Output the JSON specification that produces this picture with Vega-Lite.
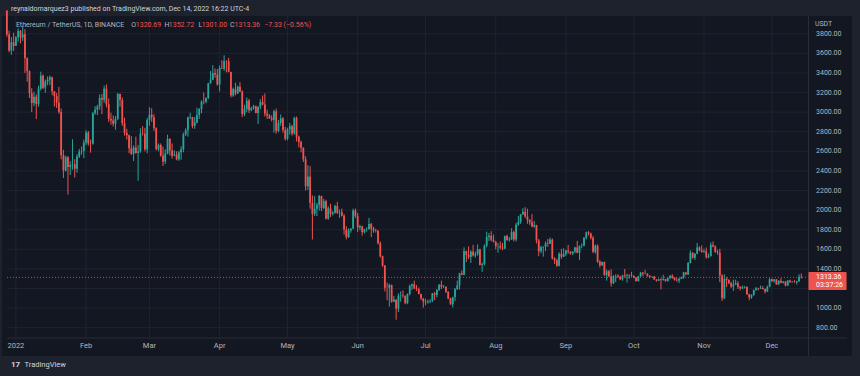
{
"$schema": "https://vega.github.io/schema/vega-lite/v6.json",
"width": 850,
"height": 340,
"autosize": {"type": "none"},
"padding": {"left": 2, "top": 16, "right": 8, "bottom": 20},
"background": "#1e222d",
"config": {"view": {"fill": "#131722", "stroke": null}, "font": "Roboto", "text": {"font": "Roboto"}, "axis": {"disable": true}},
"datasets": {
"one": [{}],
"months": [{"m":"2022-01-01","lab":"2022"},{"m":"2022-02-01","lab":"Feb"},{"m":"2022-03-01","lab":"Mar"},{"m":"2022-04-01","lab":"Apr"},{"m":"2022-05-01","lab":"May"},{"m":"2022-06-01","lab":"Jun"},{"m":"2022-07-01","lab":"Jul"},{"m":"2022-08-01","lab":"Aug"},{"m":"2022-09-01","lab":"Sep"},{"m":"2022-10-01","lab":"Oct"},{"m":"2022-11-01","lab":"Nov"},{"m":"2022-12-01","lab":"Dec"}],
"prices": [{"p":800},{"p":1000},{"p":1200},{"p":1400},{"p":1600},{"p":1800},{"p":2000},{"p":2200},{"p":2400},{"p":2600},{"p":2800},{"p":3000},{"p":3200},{"p":3400},{"p":3600},{"p":3800}],
"eth": [
{"d":"2021-12-28","o":4037,"h":4037,"l":3769,"c":3793},
{"d":"2021-12-29","o":3793,"h":3830,"l":3612,"c":3628},
{"d":"2021-12-30","o":3628,"h":3767,"l":3585,"c":3713},
{"d":"2021-12-31","o":3713,"h":3810,"l":3623,"c":3676},
{"d":"2022-01-01","o":3676,"h":3776,"l":3675,"c":3765},
{"d":"2022-01-02","o":3765,"h":3856,"l":3720,"c":3829},
{"d":"2022-01-03","o":3829,"h":3838,"l":3701,"c":3761},
{"d":"2022-01-04","o":3761,"h":3876,"l":3728,"c":3794},
{"d":"2022-01-05","o":3794,"h":3847,"l":3400,"c":3550},
{"d":"2022-01-06","o":3550,"h":3560,"l":3311,"c":3418},
{"d":"2022-01-07","o":3418,"h":3425,"l":3144,"c":3193},
{"d":"2022-01-08","o":3193,"h":3244,"l":3000,"c":3092},
{"d":"2022-01-09","o":3092,"h":3209,"l":3061,"c":3157},
{"d":"2022-01-10","o":3157,"h":3180,"l":2929,"c":3083},
{"d":"2022-01-11","o":3083,"h":3270,"l":3055,"c":3239},
{"d":"2022-01-12","o":3239,"h":3413,"l":3221,"c":3372},
{"d":"2022-01-13","o":3372,"h":3386,"l":3236,"c":3250},
{"d":"2022-01-14","o":3250,"h":3332,"l":3197,"c":3311},
{"d":"2022-01-15","o":3311,"h":3365,"l":3275,"c":3332},
{"d":"2022-01-16","o":3332,"h":3375,"l":3275,"c":3356},
{"d":"2022-01-17","o":3356,"h":3362,"l":3173,"c":3212},
{"d":"2022-01-18","o":3212,"h":3216,"l":3057,"c":3164},
{"d":"2022-01-19","o":3164,"h":3196,"l":3042,"c":3096},
{"d":"2022-01-20","o":3096,"h":3258,"l":2984,"c":3000},
{"d":"2022-01-21","o":3000,"h":3036,"l":2519,"c":2560},
{"d":"2022-01-22","o":2560,"h":2615,"l":2328,"c":2405},
{"d":"2022-01-23","o":2405,"h":2556,"l":2392,"c":2539},
{"d":"2022-01-24","o":2539,"h":2552,"l":2159,"c":2441},
{"d":"2022-01-25","o":2441,"h":2500,"l":2358,"c":2462},
{"d":"2022-01-26","o":2462,"h":2723,"l":2412,"c":2466},
{"d":"2022-01-27","o":2466,"h":2519,"l":2333,"c":2423},
{"d":"2022-01-28","o":2423,"h":2570,"l":2382,"c":2546},
{"d":"2022-01-29","o":2546,"h":2625,"l":2531,"c":2601},
{"d":"2022-01-30","o":2601,"h":2649,"l":2567,"c":2603},
{"d":"2022-01-31","o":2603,"h":2720,"l":2530,"c":2688},
{"d":"2022-02-01","o":2688,"h":2815,"l":2663,"c":2792},
{"d":"2022-02-02","o":2792,"h":2808,"l":2658,"c":2680},
{"d":"2022-02-03","o":2680,"h":2720,"l":2586,"c":2678},
{"d":"2022-02-04","o":2678,"h":3000,"l":2668,"c":2990},
{"d":"2022-02-05","o":2990,"h":3060,"l":2973,"c":3024},
{"d":"2022-02-06","o":3024,"h":3075,"l":2970,"c":3059},
{"d":"2022-02-07","o":3059,"h":3180,"l":3025,"c":3144},
{"d":"2022-02-08","o":3144,"h":3186,"l":2980,"c":3125},
{"d":"2022-02-09","o":3125,"h":3270,"l":3095,"c":3240},
{"d":"2022-02-10","o":3240,"h":3283,"l":3049,"c":3080},
{"d":"2022-02-11","o":3080,"h":3138,"l":2900,"c":2930},
{"d":"2022-02-12","o":2930,"h":2995,"l":2872,"c":2915},
{"d":"2022-02-13","o":2915,"h":2966,"l":2853,"c":2882},
{"d":"2022-02-14","o":2882,"h":2960,"l":2820,"c":2930},
{"d":"2022-02-15","o":2930,"h":3195,"l":2920,"c":3185},
{"d":"2022-02-16","o":3185,"h":3190,"l":3055,"c":3123},
{"d":"2022-02-17","o":3123,"h":3150,"l":2860,"c":2888},
{"d":"2022-02-18","o":2888,"h":2944,"l":2760,"c":2788},
{"d":"2022-02-19","o":2788,"h":2830,"l":2720,"c":2764},
{"d":"2022-02-20","o":2764,"h":2770,"l":2580,"c":2631},
{"d":"2022-02-21","o":2631,"h":2755,"l":2562,"c":2574},
{"d":"2022-02-22","o":2574,"h":2661,"l":2500,"c":2640},
{"d":"2022-02-23","o":2640,"h":2750,"l":2575,"c":2584},
{"d":"2022-02-24","o":2584,"h":2665,"l":2300,"c":2598},
{"d":"2022-02-25","o":2598,"h":2835,"l":2585,"c":2781},
{"d":"2022-02-26","o":2781,"h":2858,"l":2762,"c":2779},
{"d":"2022-02-27","o":2779,"h":2840,"l":2600,"c":2620},
{"d":"2022-02-28","o":2620,"h":2940,"l":2580,"c":2920},
{"d":"2022-03-01","o":2920,"h":3050,"l":2860,"c":2973},
{"d":"2022-03-02","o":2973,"h":3040,"l":2900,"c":2948},
{"d":"2022-03-03","o":2948,"h":2978,"l":2810,"c":2836},
{"d":"2022-03-04","o":2836,"h":2845,"l":2610,"c":2621},
{"d":"2022-03-05","o":2621,"h":2680,"l":2600,"c":2665},
{"d":"2022-03-06","o":2665,"h":2680,"l":2545,"c":2555},
{"d":"2022-03-07","o":2555,"h":2648,"l":2450,"c":2496},
{"d":"2022-03-08","o":2496,"h":2620,"l":2470,"c":2578},
{"d":"2022-03-09","o":2578,"h":2770,"l":2570,"c":2726},
{"d":"2022-03-10","o":2726,"h":2735,"l":2557,"c":2608},
{"d":"2022-03-11","o":2608,"h":2680,"l":2527,"c":2556},
{"d":"2022-03-12","o":2556,"h":2611,"l":2550,"c":2567},
{"d":"2022-03-13","o":2567,"h":2600,"l":2508,"c":2518},
{"d":"2022-03-14","o":2518,"h":2605,"l":2503,"c":2590},
{"d":"2022-03-15","o":2590,"h":2652,"l":2513,"c":2620},
{"d":"2022-03-16","o":2620,"h":2790,"l":2590,"c":2773},
{"d":"2022-03-17","o":2773,"h":2835,"l":2757,"c":2815},
{"d":"2022-03-18","o":2815,"h":2955,"l":2750,"c":2945},
{"d":"2022-03-19","o":2945,"h":2993,"l":2928,"c":2950},
{"d":"2022-03-20","o":2950,"h":2952,"l":2834,"c":2858},
{"d":"2022-03-21","o":2858,"h":2950,"l":2830,"c":2895},
{"d":"2022-03-22","o":2895,"h":3045,"l":2885,"c":2970},
{"d":"2022-03-23","o":2970,"h":3040,"l":2930,"c":3032},
{"d":"2022-03-24","o":3032,"h":3120,"l":2990,"c":3108},
{"d":"2022-03-25","o":3108,"h":3200,"l":3080,"c":3106},
{"d":"2022-03-26","o":3106,"h":3150,"l":3090,"c":3144},
{"d":"2022-03-27","o":3144,"h":3300,"l":3131,"c":3294},
{"d":"2022-03-28","o":3294,"h":3420,"l":3290,"c":3330},
{"d":"2022-03-29","o":3330,"h":3480,"l":3325,"c":3398},
{"d":"2022-03-30","o":3398,"h":3445,"l":3350,"c":3384},
{"d":"2022-03-31","o":3384,"h":3440,"l":3270,"c":3282},
{"d":"2022-04-01","o":3282,"h":3475,"l":3210,"c":3450},
{"d":"2022-04-02","o":3450,"h":3530,"l":3440,"c":3444},
{"d":"2022-04-03","o":3444,"h":3580,"l":3420,"c":3522},
{"d":"2022-04-04","o":3522,"h":3530,"l":3405,"c":3521},
{"d":"2022-04-05","o":3521,"h":3555,"l":3407,"c":3410},
{"d":"2022-04-06","o":3410,"h":3412,"l":3150,"c":3169},
{"d":"2022-04-07","o":3169,"h":3250,"l":3155,"c":3234},
{"d":"2022-04-08","o":3234,"h":3300,"l":3170,"c":3190},
{"d":"2022-04-09","o":3190,"h":3270,"l":3185,"c":3260},
{"d":"2022-04-10","o":3260,"h":3305,"l":3205,"c":3211},
{"d":"2022-04-11","o":3211,"h":3222,"l":2950,"c":2981},
{"d":"2022-04-12","o":2981,"h":3075,"l":2960,"c":3030},
{"d":"2022-04-13","o":3030,"h":3150,"l":2998,"c":3118},
{"d":"2022-04-14","o":3118,"h":3135,"l":2990,"c":3019},
{"d":"2022-04-15","o":3019,"h":3055,"l":3010,"c":3040},
{"d":"2022-04-16","o":3040,"h":3075,"l":3025,"c":3060},
{"d":"2022-04-17","o":3060,"h":3067,"l":2988,"c":2990},
{"d":"2022-04-18","o":2990,"h":3060,"l":2880,"c":3056},
{"d":"2022-04-19","o":3056,"h":3133,"l":3030,"c":3103},
{"d":"2022-04-20","o":3103,"h":3170,"l":3070,"c":3077},
{"d":"2022-04-21","o":3077,"h":3190,"l":2955,"c":2985},
{"d":"2022-04-22","o":2985,"h":3025,"l":2930,"c":2965},
{"d":"2022-04-23","o":2965,"h":2980,"l":2930,"c":2938},
{"d":"2022-04-24","o":2938,"h":2968,"l":2905,"c":2922},
{"d":"2022-04-25","o":2922,"h":3025,"l":2790,"c":3008},
{"d":"2022-04-26","o":3008,"h":3035,"l":2780,"c":2808},
{"d":"2022-04-27","o":2808,"h":2920,"l":2796,"c":2889},
{"d":"2022-04-28","o":2889,"h":2976,"l":2860,"c":2936},
{"d":"2022-04-29","o":2936,"h":2950,"l":2790,"c":2817},
{"d":"2022-04-30","o":2817,"h":2850,"l":2710,"c":2728},
{"d":"2022-05-01","o":2728,"h":2840,"l":2712,"c":2826},
{"d":"2022-05-02","o":2826,"h":2890,"l":2770,"c":2857},
{"d":"2022-05-03","o":2857,"h":2870,"l":2760,"c":2782},
{"d":"2022-05-04","o":2782,"h":2955,"l":2770,"c":2940},
{"d":"2022-05-05","o":2940,"h":2955,"l":2700,"c":2748},
{"d":"2022-05-06","o":2748,"h":2760,"l":2640,"c":2694},
{"d":"2022-05-07","o":2694,"h":2710,"l":2590,"c":2636},
{"d":"2022-05-08","o":2636,"h":2640,"l":2490,"c":2518},
{"d":"2022-05-09","o":2518,"h":2550,"l":2200,"c":2243},
{"d":"2022-05-10","o":2243,"h":2458,"l":2205,"c":2342},
{"d":"2022-05-11","o":2342,"h":2450,"l":2015,"c":2073},
{"d":"2022-05-12","o":2073,"h":2150,"l":1700,"c":1962},
{"d":"2022-05-13","o":1962,"h":2145,"l":1940,"c":2014},
{"d":"2022-05-14","o":2014,"h":2075,"l":1940,"c":2054},
{"d":"2022-05-15","o":2054,"h":2155,"l":1995,"c":2145},
{"d":"2022-05-16","o":2145,"h":2145,"l":1990,"c":2022},
{"d":"2022-05-17","o":2022,"h":2115,"l":2011,"c":2090},
{"d":"2022-05-18","o":2090,"h":2105,"l":1905,"c":1913},
{"d":"2022-05-19","o":1913,"h":2040,"l":1900,"c":2018},
{"d":"2022-05-20","o":2018,"h":2065,"l":1930,"c":1961},
{"d":"2022-05-21","o":1961,"h":1990,"l":1945,"c":1973},
{"d":"2022-05-22","o":1973,"h":2055,"l":1963,"c":2043},
{"d":"2022-05-23","o":2043,"h":2085,"l":1960,"c":1972},
{"d":"2022-05-24","o":1972,"h":2005,"l":1920,"c":1978},
{"d":"2022-05-25","o":1978,"h":2015,"l":1935,"c":1943},
{"d":"2022-05-26","o":1943,"h":1960,"l":1750,"c":1802},
{"d":"2022-05-27","o":1802,"h":1835,"l":1700,"c":1725},
{"d":"2022-05-28","o":1725,"h":1815,"l":1715,"c":1793},
{"d":"2022-05-29","o":1793,"h":1815,"l":1770,"c":1811},
{"d":"2022-05-30","o":1811,"h":2015,"l":1805,"c":1996},
{"d":"2022-05-31","o":1996,"h":2015,"l":1920,"c":1941},
{"d":"2022-06-01","o":1941,"h":1970,"l":1775,"c":1823},
{"d":"2022-06-02","o":1823,"h":1850,"l":1795,"c":1834},
{"d":"2022-06-03","o":1834,"h":1840,"l":1740,"c":1775},
{"d":"2022-06-04","o":1775,"h":1810,"l":1762,"c":1804},
{"d":"2022-06-05","o":1804,"h":1825,"l":1780,"c":1805},
{"d":"2022-06-06","o":1805,"h":1920,"l":1800,"c":1858},
{"d":"2022-06-07","o":1858,"h":1870,"l":1725,"c":1812},
{"d":"2022-06-08","o":1812,"h":1830,"l":1770,"c":1793},
{"d":"2022-06-09","o":1793,"h":1810,"l":1770,"c":1789},
{"d":"2022-06-10","o":1789,"h":1795,"l":1650,"c":1661},
{"d":"2022-06-11","o":1661,"h":1680,"l":1515,"c":1529},
{"d":"2022-06-12","o":1529,"h":1535,"l":1420,"c":1434},
{"d":"2022-06-13","o":1434,"h":1440,"l":1170,"c":1208},
{"d":"2022-06-14","o":1208,"h":1260,"l":1080,"c":1207},
{"d":"2022-06-15","o":1207,"h":1250,"l":1015,"c":1236},
{"d":"2022-06-16","o":1236,"h":1240,"l":1055,"c":1066},
{"d":"2022-06-17","o":1066,"h":1125,"l":1060,"c":1086},
{"d":"2022-06-18","o":1086,"h":1090,"l":881,"c":994},
{"d":"2022-06-19","o":994,"h":1150,"l":960,"c":1127},
{"d":"2022-06-20","o":1127,"h":1170,"l":1065,"c":1128},
{"d":"2022-06-21","o":1128,"h":1180,"l":1105,"c":1124},
{"d":"2022-06-22","o":1124,"h":1130,"l":1040,"c":1050},
{"d":"2022-06-23","o":1050,"h":1150,"l":1040,"c":1143},
{"d":"2022-06-24","o":1143,"h":1240,"l":1130,"c":1225},
{"d":"2022-06-25","o":1225,"h":1250,"l":1185,"c":1243},
{"d":"2022-06-26","o":1243,"h":1280,"l":1195,"c":1199},
{"d":"2022-06-27","o":1199,"h":1235,"l":1175,"c":1193},
{"d":"2022-06-28","o":1193,"h":1210,"l":1140,"c":1144},
{"d":"2022-06-29","o":1144,"h":1147,"l":1080,"c":1098},
{"d":"2022-06-30","o":1098,"h":1102,"l":1005,"c":1067},
{"d":"2022-07-01","o":1067,"h":1095,"l":1030,"c":1059},
{"d":"2022-07-02","o":1059,"h":1085,"l":1045,"c":1067},
{"d":"2022-07-03","o":1067,"h":1090,"l":1050,"c":1075},
{"d":"2022-07-04","o":1075,"h":1155,"l":1060,"c":1150},
{"d":"2022-07-05","o":1150,"h":1165,"l":1080,"c":1134},
{"d":"2022-07-06","o":1134,"h":1195,"l":1110,"c":1186},
{"d":"2022-07-07","o":1186,"h":1245,"l":1175,"c":1238},
{"d":"2022-07-08","o":1238,"h":1280,"l":1195,"c":1216},
{"d":"2022-07-09","o":1216,"h":1235,"l":1205,"c":1217},
{"d":"2022-07-10","o":1217,"h":1220,"l":1155,"c":1168},
{"d":"2022-07-11","o":1168,"h":1170,"l":1090,"c":1097},
{"d":"2022-07-12","o":1097,"h":1105,"l":1035,"c":1038},
{"d":"2022-07-13","o":1038,"h":1115,"l":1006,"c":1112},
{"d":"2022-07-14","o":1112,"h":1205,"l":1070,"c":1192},
{"d":"2022-07-15","o":1192,"h":1280,"l":1185,"c":1232},
{"d":"2022-07-16","o":1232,"h":1360,"l":1190,"c":1355},
{"d":"2022-07-17","o":1355,"h":1385,"l":1335,"c":1339},
{"d":"2022-07-18","o":1339,"h":1620,"l":1335,"c":1582},
{"d":"2022-07-19","o":1582,"h":1585,"l":1470,"c":1543},
{"d":"2022-07-20","o":1543,"h":1630,"l":1500,"c":1523},
{"d":"2022-07-21","o":1523,"h":1590,"l":1460,"c":1576},
{"d":"2022-07-22","o":1576,"h":1645,"l":1525,"c":1537},
{"d":"2022-07-23","o":1537,"h":1575,"l":1515,"c":1550},
{"d":"2022-07-24","o":1550,"h":1650,"l":1535,"c":1599},
{"d":"2022-07-25","o":1599,"h":1605,"l":1435,"c":1441},
{"d":"2022-07-26","o":1441,"h":1465,"l":1370,"c":1450},
{"d":"2022-07-27","o":1450,"h":1650,"l":1435,"c":1636},
{"d":"2022-07-28","o":1636,"h":1780,"l":1620,"c":1725},
{"d":"2022-07-29","o":1725,"h":1765,"l":1685,"c":1737},
{"d":"2022-07-30","o":1737,"h":1785,"l":1680,"c":1697},
{"d":"2022-07-31","o":1697,"h":1750,"l":1670,"c":1678},
{"d":"2022-08-01","o":1678,"h":1685,"l":1600,"c":1632},
{"d":"2022-08-02","o":1632,"h":1665,"l":1565,"c":1633},
{"d":"2022-08-03","o":1633,"h":1680,"l":1600,"c":1617},
{"d":"2022-08-04","o":1617,"h":1665,"l":1590,"c":1608},
{"d":"2022-08-05","o":1608,"h":1740,"l":1600,"c":1735},
{"d":"2022-08-06","o":1735,"h":1750,"l":1690,"c":1693},
{"d":"2022-08-07","o":1693,"h":1725,"l":1680,"c":1700},
{"d":"2022-08-08","o":1700,"h":1815,"l":1695,"c":1777},
{"d":"2022-08-09","o":1777,"h":1790,"l":1680,"c":1700},
{"d":"2022-08-10","o":1700,"h":1870,"l":1680,"c":1852},
{"d":"2022-08-11","o":1852,"h":1940,"l":1840,"c":1881},
{"d":"2022-08-12","o":1881,"h":1960,"l":1860,"c":1957},
{"d":"2022-08-13","o":1957,"h":2020,"l":1950,"c":1982},
{"d":"2022-08-14","o":1982,"h":2030,"l":1920,"c":1935},
{"d":"2022-08-15","o":1935,"h":2015,"l":1860,"c":1902},
{"d":"2022-08-16","o":1902,"h":1905,"l":1850,"c":1876},
{"d":"2022-08-17","o":1876,"h":1960,"l":1825,"c":1833},
{"d":"2022-08-18","o":1833,"h":1890,"l":1820,"c":1847},
{"d":"2022-08-19","o":1847,"h":1850,"l":1660,"c":1690},
{"d":"2022-08-20","o":1690,"h":1705,"l":1530,"c":1580},
{"d":"2022-08-21","o":1580,"h":1635,"l":1560,"c":1620},
{"d":"2022-08-22","o":1620,"h":1630,"l":1525,"c":1626},
{"d":"2022-08-23","o":1626,"h":1680,"l":1580,"c":1662},
{"d":"2022-08-24","o":1662,"h":1705,"l":1625,"c":1657},
{"d":"2022-08-25","o":1657,"h":1720,"l":1655,"c":1699},
{"d":"2022-08-26","o":1699,"h":1710,"l":1495,"c":1506},
{"d":"2022-08-27","o":1506,"h":1520,"l":1450,"c":1489},
{"d":"2022-08-28","o":1489,"h":1505,"l":1420,"c":1432},
{"d":"2022-08-29","o":1432,"h":1570,"l":1425,"c":1554},
{"d":"2022-08-30","o":1554,"h":1605,"l":1500,"c":1524},
{"d":"2022-08-31","o":1524,"h":1610,"l":1520,"c":1553},
{"d":"2022-09-01","o":1553,"h":1595,"l":1530,"c":1587},
{"d":"2022-09-02","o":1587,"h":1645,"l":1555,"c":1576},
{"d":"2022-09-03","o":1576,"h":1580,"l":1545,"c":1557},
{"d":"2022-09-04","o":1557,"h":1580,"l":1540,"c":1577},
{"d":"2022-09-05","o":1577,"h":1625,"l":1560,"c":1618},
{"d":"2022-09-06","o":1618,"h":1685,"l":1560,"c":1563},
{"d":"2022-09-07","o":1563,"h":1640,"l":1490,"c":1633},
{"d":"2022-09-08","o":1633,"h":1660,"l":1610,"c":1635},
{"d":"2022-09-09","o":1635,"h":1725,"l":1630,"c":1718},
{"d":"2022-09-10","o":1718,"h":1780,"l":1700,"c":1773},
{"d":"2022-09-11","o":1773,"h":1785,"l":1740,"c":1761},
{"d":"2022-09-12","o":1761,"h":1770,"l":1700,"c":1717},
{"d":"2022-09-13","o":1717,"h":1735,"l":1560,"c":1575},
{"d":"2022-09-14","o":1575,"h":1650,"l":1555,"c":1636},
{"d":"2022-09-15","o":1636,"h":1650,"l":1460,"c":1474},
{"d":"2022-09-16","o":1474,"h":1490,"l":1415,"c":1437},
{"d":"2022-09-17","o":1437,"h":1475,"l":1430,"c":1470},
{"d":"2022-09-18","o":1470,"h":1475,"l":1330,"c":1336},
{"d":"2022-09-19","o":1336,"h":1395,"l":1280,"c":1376},
{"d":"2022-09-20","o":1376,"h":1390,"l":1315,"c":1324},
{"d":"2022-09-21","o":1324,"h":1395,"l":1220,"c":1253},
{"d":"2022-09-22","o":1253,"h":1335,"l":1245,"c":1327},
{"d":"2022-09-23","o":1327,"h":1345,"l":1265,"c":1329},
{"d":"2022-09-24","o":1329,"h":1345,"l":1310,"c":1318},
{"d":"2022-09-25","o":1318,"h":1330,"l":1285,"c":1294},
{"d":"2022-09-26","o":1294,"h":1340,"l":1280,"c":1335},
{"d":"2022-09-27","o":1335,"h":1400,"l":1310,"c":1331},
{"d":"2022-09-28","o":1331,"h":1350,"l":1260,"c":1337},
{"d":"2022-09-29","o":1337,"h":1345,"l":1300,"c":1334},
{"d":"2022-09-30","o":1334,"h":1370,"l":1320,"c":1328},
{"d":"2022-10-01","o":1328,"h":1335,"l":1305,"c":1311},
{"d":"2022-10-02","o":1311,"h":1315,"l":1270,"c":1276},
{"d":"2022-10-03","o":1276,"h":1330,"l":1270,"c":1323},
{"d":"2022-10-04","o":1323,"h":1370,"l":1320,"c":1362},
{"d":"2022-10-05","o":1362,"h":1367,"l":1325,"c":1352},
{"d":"2022-10-06","o":1352,"h":1390,"l":1345,"c":1351},
{"d":"2022-10-07","o":1351,"h":1355,"l":1320,"c":1330},
{"d":"2022-10-08","o":1330,"h":1335,"l":1305,"c":1316},
{"d":"2022-10-09","o":1316,"h":1325,"l":1310,"c":1321},
{"d":"2022-10-10","o":1321,"h":1330,"l":1290,"c":1291},
{"d":"2022-10-11","o":1291,"h":1295,"l":1270,"c":1279},
{"d":"2022-10-12","o":1279,"h":1300,"l":1278,"c":1295},
{"d":"2022-10-13","o":1295,"h":1305,"l":1190,"c":1288},
{"d":"2022-10-14","o":1288,"h":1340,"l":1280,"c":1297},
{"d":"2022-10-15","o":1297,"h":1298,"l":1270,"c":1275},
{"d":"2022-10-16","o":1275,"h":1310,"l":1272,"c":1306},
{"d":"2022-10-17","o":1306,"h":1335,"l":1295,"c":1331},
{"d":"2022-10-18","o":1331,"h":1345,"l":1300,"c":1310},
{"d":"2022-10-19","o":1310,"h":1315,"l":1280,"c":1286},
{"d":"2022-10-20","o":1286,"h":1310,"l":1270,"c":1282},
{"d":"2022-10-21","o":1282,"h":1305,"l":1255,"c":1299},
{"d":"2022-10-22","o":1299,"h":1320,"l":1295,"c":1314},
{"d":"2022-10-23","o":1314,"h":1370,"l":1300,"c":1364},
{"d":"2022-10-24","o":1364,"h":1365,"l":1335,"c":1344},
{"d":"2022-10-25","o":1344,"h":1470,"l":1338,"c":1460},
{"d":"2022-10-26","o":1460,"h":1590,"l":1455,"c":1565},
{"d":"2022-10-27","o":1565,"h":1570,"l":1505,"c":1513},
{"d":"2022-10-28","o":1513,"h":1560,"l":1490,"c":1555},
{"d":"2022-10-29","o":1555,"h":1665,"l":1550,"c":1619},
{"d":"2022-10-30","o":1619,"h":1630,"l":1580,"c":1590},
{"d":"2022-10-31","o":1590,"h":1640,"l":1565,"c":1572},
{"d":"2022-11-01","o":1572,"h":1605,"l":1565,"c":1580},
{"d":"2022-11-02","o":1580,"h":1618,"l":1505,"c":1518},
{"d":"2022-11-03","o":1518,"h":1558,"l":1510,"c":1531},
{"d":"2022-11-04","o":1531,"h":1670,"l":1525,"c":1645},
{"d":"2022-11-05","o":1645,"h":1680,"l":1620,"c":1628},
{"d":"2022-11-06","o":1628,"h":1640,"l":1565,"c":1571},
{"d":"2022-11-07","o":1571,"h":1595,"l":1545,"c":1566},
{"d":"2022-11-08","o":1566,"h":1605,"l":1265,"c":1333},
{"d":"2022-11-09","o":1333,"h":1345,"l":1073,"c":1100},
{"d":"2022-11-10","o":1100,"h":1345,"l":1090,"c":1298},
{"d":"2022-11-11","o":1298,"h":1315,"l":1215,"c":1287},
{"d":"2022-11-12","o":1287,"h":1295,"l":1245,"c":1255},
{"d":"2022-11-13","o":1255,"h":1270,"l":1205,"c":1221},
{"d":"2022-11-14","o":1221,"h":1290,"l":1175,"c":1241},
{"d":"2022-11-15","o":1241,"h":1290,"l":1235,"c":1253},
{"d":"2022-11-16","o":1253,"h":1275,"l":1195,"c":1216},
{"d":"2022-11-17","o":1216,"h":1225,"l":1180,"c":1201},
{"d":"2022-11-18","o":1201,"h":1230,"l":1195,"c":1212},
{"d":"2022-11-19","o":1212,"h":1225,"l":1200,"c":1218},
{"d":"2022-11-20","o":1218,"h":1220,"l":1135,"c":1142},
{"d":"2022-11-21","o":1142,"h":1145,"l":1080,"c":1108},
{"d":"2022-11-22","o":1108,"h":1140,"l":1095,"c":1135},
{"d":"2022-11-23","o":1135,"h":1190,"l":1125,"c":1183},
{"d":"2022-11-24","o":1183,"h":1215,"l":1180,"c":1203},
{"d":"2022-11-25","o":1203,"h":1208,"l":1180,"c":1199},
{"d":"2022-11-26","o":1199,"h":1230,"l":1195,"c":1205},
{"d":"2022-11-27","o":1205,"h":1225,"l":1190,"c":1195},
{"d":"2022-11-28","o":1195,"h":1200,"l":1150,"c":1169},
{"d":"2022-11-29","o":1169,"h":1230,"l":1165,"c":1217},
{"d":"2022-11-30","o":1217,"h":1305,"l":1212,"c":1295},
{"d":"2022-12-01","o":1295,"h":1300,"l":1265,"c":1276},
{"d":"2022-12-02","o":1276,"h":1295,"l":1260,"c":1294},
{"d":"2022-12-03","o":1294,"h":1297,"l":1238,"c":1241},
{"d":"2022-12-04","o":1241,"h":1285,"l":1238,"c":1279},
{"d":"2022-12-05","o":1279,"h":1305,"l":1255,"c":1259},
{"d":"2022-12-06","o":1259,"h":1275,"l":1250,"c":1271},
{"d":"2022-12-07","o":1271,"h":1272,"l":1220,"c":1231},
{"d":"2022-12-08","o":1231,"h":1285,"l":1225,"c":1281},
{"d":"2022-12-09","o":1281,"h":1290,"l":1260,"c":1264},
{"d":"2022-12-10","o":1264,"h":1278,"l":1262,"c":1266},
{"d":"2022-12-11","o":1266,"h":1285,"l":1260,"c":1263},
{"d":"2022-12-12","o":1263,"h":1278,"l":1240,"c":1274},
{"d":"2022-12-13","o":1274,"h":1345,"l":1265,"c":1320.69},
{"d":"2022-12-14","o":1320.69,"h":1352.72,"l":1301,"c":1313.36}
]
},
"layer": [
{"data": {"name": "months"},
 "mark": {"type": "rule", "color": "#1f2331", "strokeWidth": 1},
 "encoding": {
  "x": {"field": "m", "type": "temporal", "scale": {"type": "utc", "domain": [{"year":2021,"month":12,"date":28,"hours":1,"minutes":41,"utc":true},{"year":2023,"month":1,"date":3,"hours":4,"minutes":34,"utc":true}]}},
  "y": {"datum": 695, "type": "quantitative", "scale": {"domain": [511, 3981], "nice": false, "zero": false}},
  "y2": {"datum": 3981}}},
{"data": {"name": "prices"},
 "mark": {"type": "rule", "color": "#1f2331", "strokeWidth": 1},
 "encoding": {
  "y": {"field": "p", "type": "quantitative"},
  "x": {"datum": {"year":2021,"month":12,"date":28,"hours":1,"minutes":41,"utc":true}, "type": "temporal"},
  "x2": {"datum": {"year":2022,"month":12,"date":17,"hours":3,"minutes":50,"utc":true}}}},
{"data": {"name": "one"},
 "mark": {"type": "rule", "color": "#2a2e39", "strokeWidth": 1},
 "encoding": {
  "x": {"datum": {"year":2022,"month":12,"date":17,"hours":3,"minutes":50,"utc":true}, "type": "temporal"},
  "y": {"datum": 511, "type": "quantitative"},
  "y2": {"datum": 3981}}},
{"data": {"name": "one"},
 "mark": {"type": "rule", "color": "#2a2e39", "strokeWidth": 1},
 "encoding": {
  "y": {"datum": 695, "type": "quantitative"},
  "x": {"datum": {"year":2021,"month":12,"date":28,"hours":1,"minutes":41,"utc":true}, "type": "temporal"},
  "x2": {"datum": {"year":2023,"month":1,"date":3,"hours":4,"minutes":34,"utc":true}}}},
{"data": {"name": "prices"},
 "transform": [{"filter": "datum.p != 1200"}],
 "mark": {"type": "text", "color": "#b2b5be", "fontSize": 7, "align": "left", "baseline": "middle"},
 "encoding": {
  "y": {"field": "p", "type": "quantitative"},
  "x": {"datum": {"year":2022,"month":12,"date":20,"hours":12,"minutes":0,"utc":true}, "type": "temporal"},
  "text": {"field": "p", "type": "quantitative", "format": ".2f"}}},
{"data": {"name": "months"},
 "mark": {"type": "text", "color": "#b2b5be", "fontSize": 7.5, "align": "center", "baseline": "middle"},
 "encoding": {
  "x": {"field": "m", "type": "temporal"},
  "y": {"datum": 613, "type": "quantitative"},
  "text": {"field": "lab", "type": "nominal"}}},
{"data": {"name": "one"},
 "mark": {"type": "text", "text": "USDT", "color": "#b2b5be", "fontSize": 7, "align": "left", "baseline": "middle"},
 "encoding": {"x": {"datum": {"year":2022,"month":12,"date":20,"hours":0,"minutes":0,"utc":true}, "type": "temporal"}, "y": {"datum": 3897, "type": "quantitative"}}},
{"data": {"name": "eth"},
 "mark": {"type": "rule", "strokeWidth": 1},
 "encoding": {
  "x": {"field": "d", "type": "temporal"},
  "y": {"field": "l", "type": "quantitative"},
  "y2": {"field": "h"},
  "color": {"condition": {"test": "datum.c >= datum.o", "value": "#26a69a"}, "value": "#ef5350"}}},
{"data": {"name": "eth"},
 "mark": {"type": "bar", "size": 1.8},
 "encoding": {
  "x": {"field": "d", "type": "temporal"},
  "y": {"field": "o", "type": "quantitative"},
  "y2": {"field": "c"},
  "color": {"condition": {"test": "datum.c >= datum.o", "value": "#26a69a"}, "value": "#ef5350"}}},
{"data": {"name": "one"},
 "mark": {"type": "rule", "color": "#ef5350", "strokeDash": [1, 2], "opacity": 0.8, "strokeWidth": 1},
 "encoding": {
  "y": {"datum": 1313.36, "type": "quantitative"},
  "x": {"datum": {"year":2021,"month":12,"date":28,"hours":1,"minutes":41,"utc":true}, "type": "temporal"},
  "x2": {"datum": {"year":2022,"month":12,"date":17,"hours":3,"minutes":50,"utc":true}}}},
{"data": {"name": "one"},
 "mark": {"type": "rect", "color": "#ef5350", "cornerRadius": 1},
 "encoding": {
  "x": {"datum": {"year":2022,"month":12,"date":17,"hours":3,"minutes":50,"utc":true}, "type": "temporal"},
  "x2": {"datum": {"year":2023,"month":1,"date":3,"hours":0,"minutes":0,"utc":true}},
  "y": {"datum": 1185, "type": "quantitative"},
  "y2": {"datum": 1368}}},
{"data": {"name": "one"},
 "mark": {"type": "text", "text": "1313.36", "color": "#ffffff", "fontSize": 7, "align": "left", "baseline": "middle"},
 "encoding": {"x": {"datum": {"year":2022,"month":12,"date":20,"hours":12,"minutes":0,"utc":true}, "type": "temporal"}, "y": {"datum": 1320, "type": "quantitative"}}},
{"data": {"name": "one"},
 "mark": {"type": "text", "text": "03:37:26", "color": "#ffffff", "fontSize": 7, "align": "left", "baseline": "middle"},
 "encoding": {"x": {"datum": {"year":2022,"month":12,"date":20,"hours":12,"minutes":0,"utc":true}, "type": "temporal"}, "y": {"datum": 1236, "type": "quantitative"}}},
{"data": {"name": "one"},
 "mark": {"type": "text", "text": "reynaldomarquez3 published on TradingView.com, Dec 14, 2022 16:22 UTC-4", "color": "#d1d4dc", "fontSize": 7, "align": "left", "baseline": "middle"},
 "encoding": {"x": {"datum": {"year":2021,"month":12,"date":29,"hours":19,"minutes":36,"utc":true}, "type": "temporal"}, "y": {"datum": 4052, "type": "quantitative"}}},
{"data": {"name": "one"},
 "mark": {"type": "text", "text": "Ethereum / TetherUS, 1D, BINANCE", "color": "#b2b5be", "fontSize": 7, "align": "left", "baseline": "middle"},
 "encoding": {"x": {"datum": {"year":2022,"month":1,"date":1,"utc":true}, "type": "temporal"}, "y": {"datum": 3889, "type": "quantitative"}}},
{"data": {"name": "one"},
 "mark": {"type": "text", "text": "O", "color": "#b2b5be", "fontSize": 7, "align": "left", "baseline": "middle"},
 "encoding": {"x": {"datum": {"year":2022,"month":2,"date":20,"hours":22,"minutes":48,"utc":true}, "type": "temporal"}, "y": {"datum": 3889, "type": "quantitative"}}},
{"data": {"name": "one"},
 "mark": {"type": "text", "text": "1320.69", "color": "#ef5350", "fontSize": 7, "align": "left", "baseline": "middle"},
 "encoding": {"x": {"datum": {"year":2022,"month":2,"date":22,"hours":23,"minutes":2,"utc":true}, "type": "temporal"}, "y": {"datum": 3889, "type": "quantitative"}}},
{"data": {"name": "one"},
 "mark": {"type": "text", "text": "H", "color": "#b2b5be", "fontSize": 7, "align": "left", "baseline": "middle"},
 "encoding": {"x": {"datum": {"year":2022,"month":3,"date":7,"hours":14,"minutes":53,"utc":true}, "type": "temporal"}, "y": {"datum": 3889, "type": "quantitative"}}},
{"data": {"name": "one"},
 "mark": {"type": "text", "text": "1352.72", "color": "#ef5350", "fontSize": 7, "align": "left", "baseline": "middle"},
 "encoding": {"x": {"datum": {"year":2022,"month":3,"date":9,"hours":12,"minutes":58,"utc":true}, "type": "temporal"}, "y": {"datum": 3889, "type": "quantitative"}}},
{"data": {"name": "one"},
 "mark": {"type": "text", "text": "L", "color": "#b2b5be", "fontSize": 7, "align": "left", "baseline": "middle"},
 "encoding": {"x": {"datum": {"year":2022,"month":3,"date":22,"hours":15,"minutes":22,"utc":true}, "type": "temporal"}, "y": {"datum": 3889, "type": "quantitative"}}},
{"data": {"name": "one"},
 "mark": {"type": "text", "text": "1301.00", "color": "#ef5350", "fontSize": 7, "align": "left", "baseline": "middle"},
 "encoding": {"x": {"datum": {"year":2022,"month":3,"date":24,"hours":1,"minutes":55,"utc":true}, "type": "temporal"}, "y": {"datum": 3889, "type": "quantitative"}}},
{"data": {"name": "one"},
 "mark": {"type": "text", "text": "C", "color": "#b2b5be", "fontSize": 7, "align": "left", "baseline": "middle"},
 "encoding": {"x": {"datum": {"year":2022,"month":4,"date":5,"hours":14,"minutes":38,"utc":true}, "type": "temporal"}, "y": {"datum": 3889, "type": "quantitative"}}},
{"data": {"name": "one"},
 "mark": {"type": "text", "text": "1313.36", "color": "#ef5350", "fontSize": 7, "align": "left", "baseline": "middle"},
 "encoding": {"x": {"datum": {"year":2022,"month":4,"date":7,"hours":14,"minutes":53,"utc":true}, "type": "temporal"}, "y": {"datum": 3889, "type": "quantitative"}}},
{"data": {"name": "one"},
 "mark": {"type": "text", "text": "−7.33 (−0.56%)", "color": "#ef5350", "fontSize": 7, "align": "left", "baseline": "middle"},
 "encoding": {"x": {"datum": {"year":2022,"month":4,"date":20,"hours":17,"minutes":17,"utc":true}, "type": "temporal"}, "y": {"datum": 3889, "type": "quantitative"}}},
{"data": {"name": "one"},
 "mark": {"type": "text", "text": "17", "color": "#d1d4dc", "fontSize": 8, "fontWeight": "bold", "align": "left", "baseline": "middle"},
 "encoding": {"x": {"datum": {"year":2021,"month":12,"date":29,"hours":19,"minutes":36,"utc":true}, "type": "temporal"}, "y": {"datum": 419, "type": "quantitative"}}},
{"data": {"name": "one"},
 "mark": {"type": "text", "text": "TradingView", "color": "#d1d4dc", "fontSize": 7.5, "align": "left", "baseline": "middle"},
 "encoding": {"x": {"datum": {"year":2022,"month":1,"date":4,"hours":20,"minutes":0,"utc":true}, "type": "temporal"}, "y": {"datum": 419, "type": "quantitative"}}}
]
}
